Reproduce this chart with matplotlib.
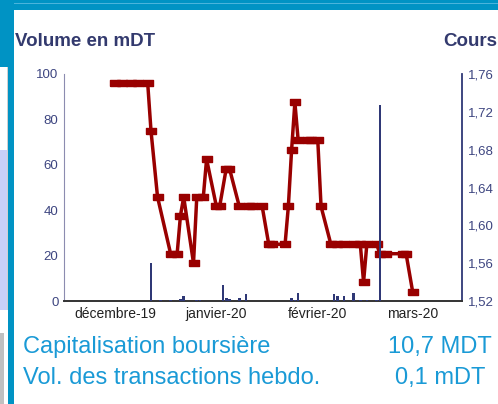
import matplotlib
matplotlib.use("Agg")
import matplotlib.pyplot as plt
import matplotlib.dates as mdates
from matplotlib.patches import Rectangle
from matplotlib.ticker import FuncFormatter
import pandas as pd

plt.rcParams['font.family'] = ['Liberation Sans', 'DejaVu Sans']

# Cours (DT)
price_dates = ["2019-12-01", "2019-12-03", "2019-12-06", "2019-12-08", "2019-12-11",
               "2019-12-12", "2019-12-14", "2019-12-18", "2019-12-20", "2019-12-21",
               "2019-12-22", "2019-12-25", "2019-12-26", "2019-12-28", "2019-12-29",
               "2020-01-01", "2020-01-02", "2020-01-04", "2020-01-05", "2020-01-08",
               "2020-01-11", "2020-01-12", "2020-01-15", "2020-01-17", "2020-01-18",
               "2020-01-22", "2020-01-23", "2020-01-24", "2020-01-25", "2020-01-26",
               "2020-01-29", "2020-01-30", "2020-02-01", "2020-02-02", "2020-02-05",
               "2020-02-07", "2020-02-09", "2020-02-12", "2020-02-14", "2020-02-15",
               "2020-02-16", "2020-02-19", "2020-02-20", "2020-02-22", "2020-02-27",
               "2020-02-28", "2020-03-01"]
prices = [1.75, 1.75, 1.75, 1.75, 1.75, 1.70, 1.63, 1.57, 1.57, 1.61,
          1.63, 1.56, 1.63, 1.63, 1.67, 1.62, 1.62, 1.66, 1.66, 1.62,
          1.62, 1.62, 1.62, 1.58, 1.58, 1.58, 1.62, 1.68, 1.73, 1.69,
          1.69, 1.69, 1.69, 1.62, 1.58, 1.58, 1.58, 1.58, 1.58, 1.54,
          1.58, 1.58, 1.57, 1.57, 1.57, 1.57, 1.53]

# Volume (mDT)
vol_dates = ["2019-12-12", "2019-12-15", "2019-12-18", "2019-12-21", "2019-12-22",
             "2019-12-26", "2019-12-27", "2020-01-03", "2020-01-04", "2020-01-05",
             "2020-01-08", "2020-01-10", "2020-01-24", "2020-01-25", "2020-01-26",
             "2020-02-06", "2020-02-07", "2020-02-09", "2020-02-12", "2020-02-14",
             "2020-02-16", "2020-02-19", "2020-02-20"]
volumes = [16.8, 0.3, 0.3, 0.7, 2.2, 0.3, 0.3, 7.0, 1.3, 0.7,
           1.2, 3.1, 1.3, 0.6, 3.4, 2.9, 2.2, 2.2, 3.4, 0.3,
           0.3, 0.3, 86.3]

month_ticks = ["2019-12-01", "2020-01-01", "2020-02-01", "2020-03-01"]
month_labels = ["décembre-19", "janvier-20", "février-20", "mars-20"]

info_labels = ["Capitalisation boursière", "Vol. des transactions hebdo."]
info_values = ["10,7 MDT", "0,1 mDT"]

W, H = 498, 404
blue = "#0093c4"
navy = "#2f3876"
dark_red = "#990000"
label_col = "#3d4580"
info_col = "#1a9ad6"

fig = plt.figure(figsize=(W / 100, H / 100), dpi=100)
fig.patch.set_facecolor("white")


def px_rect(x, y, w, h, color):
    # rectangle in pixel coords (origin top-left)
    fig.patches.append(Rectangle((x / W, 1 - (y + h) / H), w / W, h / H,
                                 transform=fig.transFigure, color=color, lw=0, zorder=0))


# frame decorations
px_rect(0, 0, W, 10, blue)
px_rect(0, 3, W, 1, "#4ab4dc")
px_rect(0, 0, 14, 67, blue)
px_rect(8, 0, 6, H, blue)
px_rect(0, 150, 7, 160, "#c8d0f8")
px_rect(7, 67, 1, 243, "#d0d0d0")
px_rect(0, 333, 4, 71, "#c0c0c0")

ax = fig.add_axes([64 / W, 1 - 301 / H, (462 - 64) / W, (301 - 74) / H])
ax2 = ax.twinx()

x_vol = mdates.date2num(pd.to_datetime(vol_dates))
x_price = mdates.date2num(pd.to_datetime(price_dates))

ax.bar(x_vol, volumes, width=0.8, color=navy, zorder=3)

rect_marker = [(-1, -0.6), (1, -0.6), (1, 0.6), (-1, 0.6), (-1, -0.6)]
ax2.plot(x_price, prices, color=dark_red, lw=2.5, marker=rect_marker,
         markersize=6.5, solid_joinstyle="miter")

# bars drawn in front of the price line
ax.set_zorder(ax2.get_zorder() + 1)
ax.patch.set_visible(False)

x0 = mdates.date2num(pd.Timestamp("2019-12-01"))
ax.set_xlim(x0 - 15.6, x0 + 106.1)
ax.set_ylim(0, 100)
ax2.set_ylim(1.52, 1.76)

ax.set_yticks(range(0, 101, 20))
ax2.set_yticks([1.52, 1.56, 1.60, 1.64, 1.68, 1.72, 1.76])
ax2.yaxis.set_major_formatter(FuncFormatter(lambda v, p: f"{v:.2f}".replace(".", ",")))

ax.set_xticks(mdates.date2num(pd.to_datetime(month_ticks)))
ax.set_xticklabels(month_labels)

ax.tick_params(axis="x", length=0, pad=4, labelsize=10, labelcolor="#222222")
ax.tick_params(axis="y", length=0, pad=4, labelsize=9.5, labelcolor=label_col)
ax2.tick_params(axis="y", length=0, pad=4, labelsize=9.5, labelcolor=label_col)

for a in (ax, ax2):
    a.spines["top"].set_visible(False)
ax.spines["right"].set_visible(False)
ax2.spines["left"].set_visible(False)
ax2.spines["bottom"].set_visible(False)
ax.spines["left"].set_color("#8c8cb0")
ax.spines["bottom"].set_color("#333333")
ax.spines["bottom"].set_linewidth(1.4)
ax2.spines["right"].set_color(navy)
ax2.spines["right"].set_linewidth(1.3)

# titles
fig.text(15 / W, 1 - 41 / H, "Volume en mDT", fontsize=13.5, fontweight="bold",
         color="#333a6e", va="center", ha="left")
fig.text(497 / W, 1 - 41 / H, "Cours", fontsize=13.5, fontweight="bold",
         color="#333a6e", va="center", ha="right")

# info lines
for i, (lab, val) in enumerate(zip(info_labels, info_values)):
    y = 1 - (347 + 31 * i) / H
    fig.text(23 / W, y, lab, fontsize=17, color=info_col, va="center", ha="left")
    fig.text(440 / W, y, val, fontsize=17, color=info_col, va="center", ha="center")

fig.savefig("out.png", dpi=100)
